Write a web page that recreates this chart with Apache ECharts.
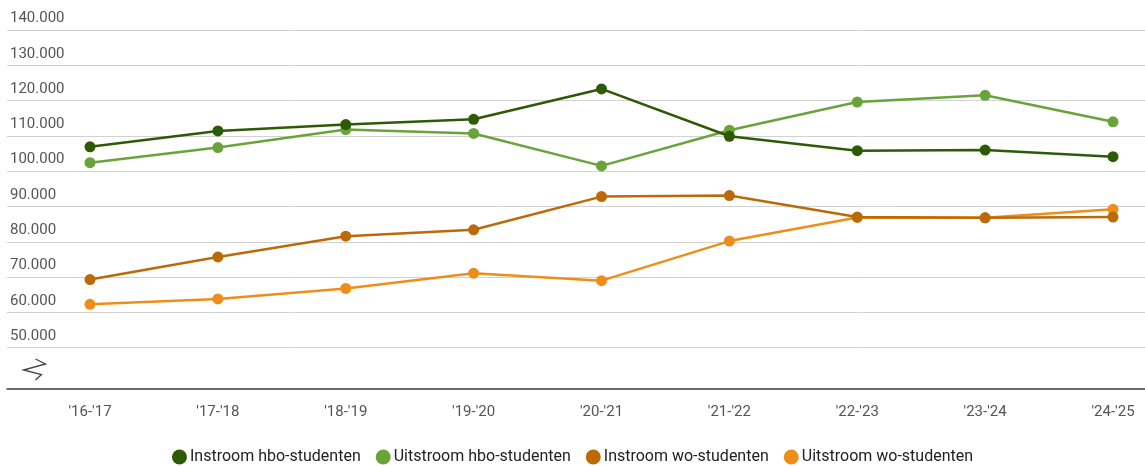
<!DOCTYPE html>
<html>
<head>
<meta charset="utf-8">
<script src="https://cdn.jsdelivr.net/npm/echarts@6/dist/echarts.min.js"></script>
<style>
  html, body { margin: 0; padding: 0; background: #fff; }
  #chart { width: 1145px; height: 466px; }
</style>
</head>
<body>
<div id="chart"></div>
<script>
// Academic years
const categories = ["'16-'17", "'17-'18", "'18-'19", "'19-'20", "'20-'21", "'21-'22", "'22-'23", "'23-'24", "'24-'25"];

// Student numbers per year
const instroomHbo  = [106900, 111400, 113200, 114700, 123300, 109900, 105800, 106000, 104100];
const uitstroomHbo = [102400, 106700, 111800, 110700, 101500, 111600, 119600, 121500, 114000];
const instroomWo   = [69300, 75700, 81600, 83400, 92800, 93100, 87000, 86800, 87000];
const uitstroomWo  = [62300, 63800, 66800, 71100, 69000, 80200, 86900, 86800, 89200];

// Value axis: shown ticks (axis is broken below 50.000)
const yTicks = [50000, 60000, 70000, 80000, 90000, 100000, 110000, 120000, 130000, 140000];
const yMin = 38300;
const yMax = 140000;

const seriesNames = ['Instroom hbo-studenten', 'Uitstroom hbo-studenten', 'Instroom wo-studenten', 'Uitstroom wo-studenten'];
const colors = ['#2e5a06', '#6aa33a', '#bb6a07', '#ee8e1a'];

const FONT = 'Roboto, "Noto Sans", sans-serif';
const fmt = v => String(v).replace(/\B(?=(\d{3})+(?!\d))/g, '.');

const chart = echarts.init(document.getElementById('chart'), null, { renderer: 'canvas' });

function lineSeries(name, data, color, z) {
  return {
    name, type: 'line', data,
    xAxisIndex: 1, yAxisIndex: 1,
    symbol: 'circle', symbolSize: 11,
    z,
    lineStyle: { color, width: 2.5 },
    itemStyle: { color },
    emphasis: { disabled: true }
  };
}

chart.setOption({
  animation: false,
  textStyle: { fontFamily: FONT },
  color: colors,
  grid: [
    { left: 7, right: 0, top: 30, bottom: 77 },
    { left: 90, right: 32, top: 30, bottom: 77 }
  ],
  xAxis: [
    {
      gridIndex: 0, type: 'value', min: 0, max: 1,
      axisLine: { show: true, lineStyle: { color: '#3a3a3a', width: 1.5 } },
      axisTick: { show: false }, axisLabel: { show: false }, splitLine: { show: false }
    },
    {
      gridIndex: 1, type: 'category', data: categories, boundaryGap: false,
      axisLine: { show: false }, axisTick: { show: false }, splitLine: { show: false },
      axisLabel: { color: '#555', fontSize: 15, margin: 16, fontFamily: FONT }
    }
  ],
  yAxis: [
    {
      gridIndex: 0, type: 'value', min: yMin, max: yMax,
      axisLine: { show: false },
      axisTick: { show: false, customValues: yTicks },
      axisLabel: {
        customValues: yTicks, inside: true, margin: 3,
        verticalAlign: 'bottom', padding: [0, 0, 4, 0],
        color: '#555', fontSize: 15, fontFamily: FONT,
        formatter: v => fmt(v)
      },
      splitLine: { show: true, lineStyle: { color: '#d2d2d2', width: 1 } }
    },
    {
      gridIndex: 1, type: 'value', min: yMin, max: yMax, show: false,
      splitLine: { show: false }
    }
  ],
  legend: {
    data: seriesNames,
    left: 'center', top: 444,
    icon: 'circle', itemWidth: 15, itemHeight: 15, itemGap: 15,
    textStyle: { color: '#222', fontSize: 16, fontFamily: FONT, padding: [0, 0, 0, -2] }
  },
  graphic: [
    {
      // axis break marker
      type: 'polyline', silent: true,
      shape: { points: [[35.5, 359], [45.5, 364], [23.5, 370], [41.5, 374.5], [35.5, 380]] },
      style: { stroke: '#444', lineWidth: 1.3, fill: null }
    }
  ],
  series: [
    lineSeries(seriesNames[0], instroomHbo, colors[0], 4),
    lineSeries(seriesNames[1], uitstroomHbo, colors[1], 3),
    lineSeries(seriesNames[2], instroomWo, colors[2], 4),
    lineSeries(seriesNames[3], uitstroomWo, colors[3], 3)
  ]
});
</script>
</body>
</html>
